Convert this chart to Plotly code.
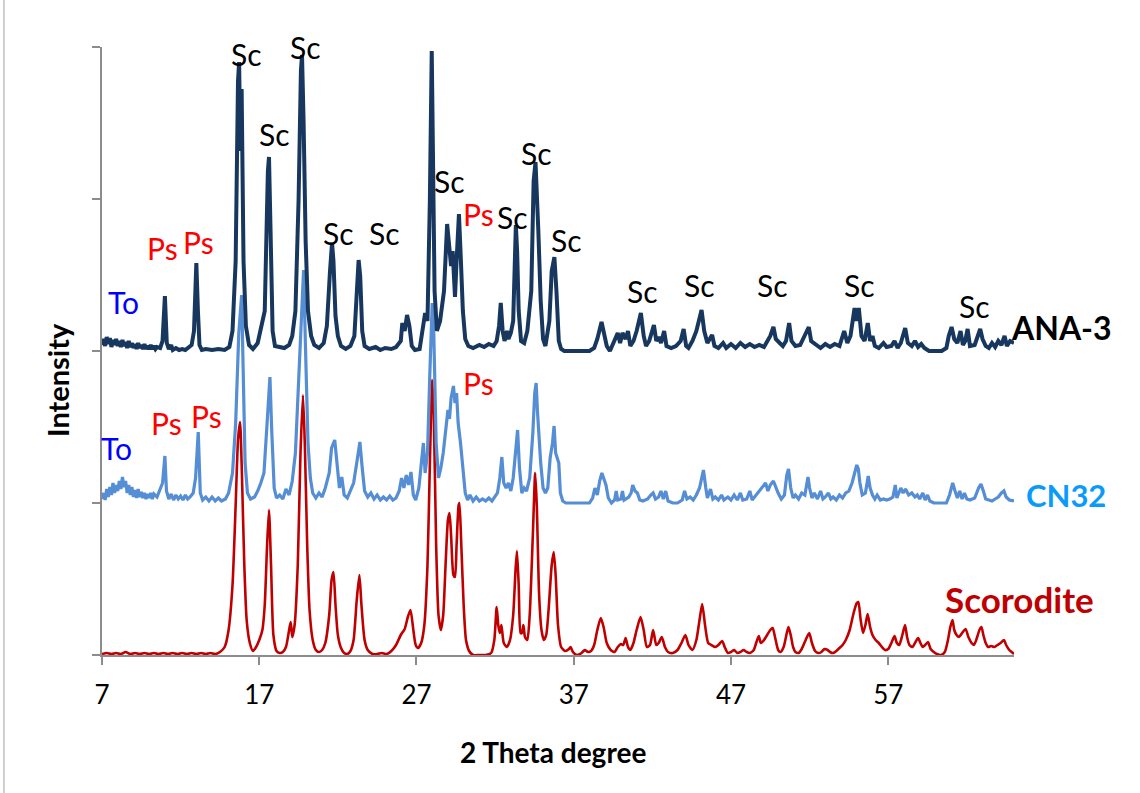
import plotly.graph_objects as go

# ---------------- data (2-theta in degrees, intensity in a.u.) ----------------
ana3_points = [
    (7.0, 6), (7.1, 12), (7.2, 5), (7.3, 14), (7.4, 7), (7.5, 13), (7.6, 4), (7.7, 11), (7.8, 6), (7.9, 12),
    (8.0, 5), (8.1, 10), (8.2, 4), (8.3, 11), (8.4, 5), (8.5, 9), (8.6, 3), (8.7, 10), (8.8, 4), (8.9, 8),
    (9.0, 3), (9.1, 7), (9.2, 2), (9.3, 8), (9.4, 3), (9.5, 6), (9.6, 2), (9.7, 7), (9.8, 2), (9.9, 5),
    (10.0, 2), (10.1, 6), (10.2, 2), (10.3, 5), (10.4, 2), (10.5, 4), (10.7, 3), (10.85, 10), (11.0, 55), (11.12, 8),
    (11.25, 2), (11.4, 6), (11.5, 1), (11.7, 3), (11.9, 1), (12.1, 2), (12.3, 1), (12.5, 3), (12.7, 6), (12.85, 20),
    (13.0, 88), (13.1, 40), (13.2, 6), (13.35, 1), (13.6, 2), (14.0, 1), (14.4, 2), (14.8, 1), (15.1, 4), (15.3, 20),
    (15.5, 90), (15.65, 270), (15.72, 289), (15.8, 200), (15.88, 262), (16.0, 90), (16.15, 25), (16.35, 6), (16.6, 2), (16.9, 8),
    (17.1, 24), (17.35, 40), (17.55, 180), (17.62, 194), (17.72, 120), (17.85, 20), (18.0, 5), (18.3, 4), (18.6, 3), (18.9, 6),
    (19.1, 15), (19.3, 40), (19.5, 150), (19.65, 280), (19.72, 296), (19.82, 230), (19.95, 110), (20.1, 40), (20.3, 15), (20.5, 6),
    (20.8, 3), (21.1, 8), (21.3, 25), (21.5, 80), (21.63, 108), (21.72, 90), (21.85, 35), (22.0, 15), (22.2, 5), (22.5, 2),
    (22.8, 5), (23.05, 15), (23.2, 50), (23.32, 91), (23.42, 75), (23.55, 20), (23.7, 5), (24.0, 2), (24.4, 4), (24.7, 1),
    (25.0, 3), (25.4, 2), (25.7, 4), (26.0, 10), (26.1, 28), (26.25, 20), (26.4, 36), (26.55, 25), (26.7, 5), (26.9, 1),
    (27.2, 2), (27.4, 20), (27.55, 38), (27.7, 30), (27.85, 150), (27.97, 300), (28.05, 220), (28.15, 60), (28.3, 20), (28.5, 30),
    (28.75, 60), (28.95, 127), (29.05, 110), (29.2, 85), (29.3, 100), (29.45, 54), (29.55, 90), (29.7, 137), (29.8, 100), (29.95, 40),
    (30.1, 12), (30.3, 5), (30.6, 3), (31.0, 6), (31.3, 4), (31.6, 7), (31.9, 5), (32.1, 10), (32.25, 25), (32.36, 48),
    (32.48, 20), (32.6, 10), (32.75, 20), (32.85, 12), (33.0, 18), (33.15, 30), (33.32, 126), (33.4, 100), (33.5, 40), (33.65, 10),
    (33.85, 8), (34.05, 20), (34.3, 60), (34.45, 170), (34.57, 189), (34.67, 130), (34.75, 120), (34.9, 50), (35.05, 12), (35.2, 5),
    (35.45, 30), (35.6, 80), (35.77, 94), (35.9, 60), (36.05, 10), (36.2, 2), (36.4, 0), (37.0, 0), (37.6, 0), (38.0, 0),
    (38.3, 3), (38.5, 12), (38.77, 29), (38.9, 20), (39.1, 5), (39.3, 0), (39.6, 10), (39.8, 18), (39.95, 8), (40.1, 18),
    (40.3, 12), (40.45, 20), (40.6, 5), (40.8, 10), (41.0, 20), (41.27, 38), (41.45, 15), (41.6, 5), (41.8, 10), (42.1, 26),
    (42.25, 10), (42.4, 14), (42.55, 8), (42.75, 20), (42.9, 5), (43.2, 3), (43.5, 5), (43.8, 10), (43.99, 22), (44.15, 5),
    (44.3, 3), (44.55, 10), (44.8, 20), (45.13, 41), (45.3, 20), (45.5, 8), (45.8, 16), (45.95, 5), (46.2, 3), (46.5, 8),
    (46.7, 3), (47.0, 7), (47.3, 3), (47.6, 8), (47.9, 4), (48.2, 7), (48.5, 4), (48.8, 6), (49.1, 4), (49.3, 10),
    (49.5, 15), (49.7, 24), (49.85, 12), (50.1, 8), (50.3, 5), (50.5, 10), (50.7, 28), (50.85, 10), (51.1, 5), (51.4, 6),
    (51.7, 15), (51.95, 24), (52.1, 10), (52.4, 6), (52.7, 3), (53.0, 7), (53.3, 4), (53.6, 7), (53.9, 5), (54.2, 20),
    (54.4, 8), (54.6, 15), (54.86, 43), (54.98, 30), (55.13, 43), (55.3, 15), (55.5, 10), (55.7, 28), (55.85, 10), (56.0, 15),
    (56.15, 5), (56.4, 3), (56.7, 8), (56.9, 4), (57.2, 5), (57.4, 10), (57.6, 3), (57.8, 8), (58.08, 23), (58.25, 8),
    (58.5, 5), (58.7, 10), (58.9, 4), (59.1, 7), (59.3, 3), (59.6, 0), (60.0, 0), (60.4, 0), (60.7, 3), (60.85, 15),
    (61.03, 24), (61.2, 12), (61.4, 8), (61.6, 20), (61.75, 6), (61.9, 10), (62.05, 22), (62.2, 5), (62.5, 6), (62.7, 15),
    (62.85, 22), (63.0, 12), (63.2, 5), (63.4, 3), (63.6, 8), (63.8, 4), (64.0, 10), (64.2, 6), (64.4, 15), (64.55, 5),
    (64.75, 10), (65.0, 8),
]

cn32_points = [
    (7.0, 4), (7.1, 10), (7.2, 3), (7.3, 14), (7.4, 6), (7.5, 16), (7.6, 8), (7.7, 20), (7.8, 10), (7.9, 18),
    (8.0, 12), (8.1, 22), (8.2, 14), (8.3, 26), (8.4, 16), (8.5, 22), (8.6, 10), (8.7, 18), (8.8, 8), (8.9, 16),
    (9.0, 6), (9.1, 13), (9.2, 5), (9.3, 14), (9.4, 6), (9.5, 11), (9.6, 5), (9.7, 10), (9.8, 4), (9.9, 9),
    (10.0, 5), (10.1, 10), (10.2, 4), (10.3, 9), (10.5, 6), (10.7, 14), (10.85, 20), (11.0, 47), (11.1, 12), (11.25, 4),
    (11.4, 9), (11.55, 3), (11.7, 8), (11.85, 4), (12.0, 7), (12.15, 3), (12.3, 8), (12.45, 4), (12.6, 6), (12.8, 10),
    (12.95, 25), (13.12, 71), (13.25, 10), (13.4, 3), (13.6, 6), (13.8, 2), (14.0, 6), (14.2, 2), (14.4, 5), (14.6, 2),
    (14.85, 4), (15.05, 10), (15.3, 30), (15.5, 80), (15.7, 170), (15.88, 208), (16.0, 120), (16.1, 40), (16.25, 10), (16.45, 4),
    (16.7, 6), (16.9, 12), (17.1, 20), (17.3, 30), (17.5, 80), (17.68, 126), (17.8, 70), (17.95, 15), (18.1, 5), (18.3, 8),
    (18.5, 4), (18.7, 14), (18.9, 8), (19.1, 22), (19.3, 50), (19.5, 120), (19.7, 200), (19.82, 233), (19.95, 150), (20.1, 60),
    (20.25, 25), (20.4, 10), (20.6, 5), (20.8, 10), (21.0, 6), (21.2, 15), (21.45, 30), (21.6, 55), (21.8, 63), (21.95, 35),
    (22.1, 15), (22.25, 26), (22.4, 8), (22.6, 5), (22.8, 12), (23.0, 20), (23.2, 40), (23.4, 61), (23.55, 35), (23.7, 12),
    (23.9, 6), (24.1, 10), (24.3, 4), (24.5, 8), (24.7, 3), (24.9, 6), (25.1, 3), (25.3, 7), (25.5, 3), (25.7, 5),
    (25.9, 12), (26.05, 25), (26.2, 15), (26.35, 28), (26.5, 18), (26.65, 31), (26.8, 8), (26.95, 3), (27.15, 15), (27.3, 40),
    (27.44, 60), (27.55, 30), (27.7, 50), (27.85, 130), (28.0, 200), (28.1, 170), (28.25, 60), (28.4, 25), (28.55, 35), (28.7, 50),
    (28.85, 70), (29.0, 93), (29.1, 84), (29.2, 105), (29.35, 117), (29.45, 100), (29.55, 110), (29.65, 80), (29.8, 60), (29.95, 30),
    (30.1, 10), (30.25, 3), (30.4, 8), (30.6, 2), (30.8, 6), (31.0, 2), (31.2, 4), (31.4, 2), (31.6, 5), (31.8, 2),
    (32.0, 6), (32.15, 10), (32.3, 25), (32.43, 46), (32.55, 20), (32.7, 15), (32.85, 20), (33.0, 12), (33.15, 25), (33.3, 50),
    (33.43, 73), (33.55, 35), (33.7, 10), (33.85, 15), (34.0, 12), (34.2, 25), (34.4, 70), (34.52, 110), (34.61, 120), (34.7, 90),
    (34.8, 60), (34.9, 40), (35.05, 15), (35.2, 10), (35.35, 15), (35.5, 45), (35.65, 60), (35.75, 77), (35.85, 50), (35.95, 45),
    (36.05, 40), (36.15, 10), (36.3, 2), (36.5, 0), (37.0, 0), (37.5, 0), (38.0, 0), (38.2, 5), (38.35, 15), (38.5, 8),
    (38.65, 22), (38.79, 30), (38.9, 25), (39.05, 18), (39.2, 5), (39.4, 0), (39.6, 3), (39.7, 12), (39.8, 3), (40.0, 4),
    (40.1, 12), (40.2, 3), (40.5, 6), (40.65, 10), (40.75, 18), (40.9, 12), (41.05, 10), (41.2, 3), (41.4, 2), (41.7, 4),
    (41.9, 8), (42.05, 10), (42.2, 4), (42.4, 6), (42.55, 12), (42.7, 4), (42.85, 12), (43.0, 2), (43.3, 0), (43.6, 0),
    (43.9, 3), (44.05, 12), (44.2, 4), (44.4, 6), (44.6, 3), (44.8, 8), (45.0, 15), (45.25, 33), (45.4, 15), (45.5, 5),
    (45.7, 14), (45.85, 4), (46.0, 6), (46.2, 3), (46.4, 8), (46.55, 3), (46.8, 6), (47.0, 3), (47.2, 8), (47.4, 3),
    (47.6, 10), (47.75, 3), (48.0, 4), (48.2, 12), (48.35, 3), (48.6, 8), (48.8, 12), (49.0, 15), (49.2, 20), (49.35, 12),
    (49.5, 18), (49.7, 22), (49.85, 15), (50.0, 10), (50.2, 4), (50.4, 8), (50.55, 28), (50.66, 34), (50.8, 15), (50.95, 5),
    (51.1, 8), (51.3, 4), (51.5, 10), (51.7, 8), (51.9, 26), (52.0, 15), (52.15, 5), (52.3, 10), (52.5, 4), (52.7, 12),
    (52.85, 4), (53.0, 6), (53.2, 10), (53.35, 4), (53.5, 6), (53.7, 3), (53.9, 8), (54.1, 5), (54.3, 10), (54.5, 12),
    (54.7, 20), (54.85, 30), (55.0, 38), (55.1, 34), (55.2, 20), (55.35, 8), (55.55, 10), (55.73, 27), (55.85, 15), (56.0, 8),
    (56.15, 4), (56.3, 8), (56.5, 3), (56.7, 4), (56.9, 3), (57.1, 4), (57.3, 6), (57.45, 18), (57.55, 5), (57.8, 15),
    (57.95, 10), (58.1, 14), (58.3, 8), (58.5, 10), (58.7, 6), (58.85, 8), (59.0, 4), (59.2, 10), (59.35, 3), (59.5, 8),
    (59.65, 2), (59.9, 0), (60.3, 0), (60.7, 0), (60.9, 8), (61.1, 20), (61.25, 12), (61.4, 5), (61.55, 12), (61.7, 4),
    (61.85, 10), (62.0, 4), (62.2, 3), (62.5, 5), (62.75, 15), (62.9, 19), (63.05, 12), (63.2, 4), (63.4, 3), (63.6, 2),
    (63.8, 4), (64.0, 6), (64.2, 10), (64.36, 12), (64.5, 6), (64.7, 3), (65.0, 2),
]

scorodite_points = [
    (7.0, 1), (7.3, 2), (7.6, 1), (7.9, 2), (8.2, 1), (8.5, 3), (8.8, 1), (9.1, 2), (9.4, 1), (9.7, 2),
    (10.0, 1), (10.3, 2), (10.6, 1), (10.9, 2), (11.2, 1), (11.5, 2), (11.8, 1), (12.1, 2), (12.4, 1), (12.7, 2),
    (13.0, 1), (13.3, 2), (13.6, 1), (13.9, 2), (14.2, 1), (14.5, 3), (14.8, 8), (15.05, 25), (15.3, 70), (15.5, 150),
    (15.65, 215), (15.78, 233), (15.9, 180), (16.05, 90), (16.2, 35), (16.4, 12), (16.6, 4), (16.8, 8), (17.0, 15), (17.2, 25),
    (17.35, 50), (17.5, 110), (17.62, 145), (17.75, 90), (17.9, 20), (18.1, 4), (18.3, 2), (18.5, 3), (18.7, 8), (18.9, 25),
    (19.0, 33), (19.1, 18), (19.25, 30), (19.45, 90), (19.62, 200), (19.78, 260), (19.9, 210), (20.05, 110), (20.2, 45), (20.4, 15),
    (20.6, 5), (20.8, 3), (21.0, 5), (21.2, 12), (21.45, 40), (21.6, 75), (21.72, 83), (21.85, 50), (22.0, 20), (22.2, 7),
    (22.4, 2), (22.6, 1), (22.8, 4), (23.0, 15), (23.2, 55), (23.37, 80), (23.5, 50), (23.7, 15), (23.9, 5), (24.2, 1),
    (24.5, 1), (24.8, 2), (25.1, 1), (25.4, 4), (25.7, 10), (26.0, 20), (26.25, 26), (26.45, 38), (26.62, 45), (26.8, 25),
    (26.95, 10), (27.1, 7), (27.3, 12), (27.5, 30), (27.7, 90), (27.85, 190), (28.0, 275), (28.1, 240), (28.25, 110), (28.4, 40),
    (28.55, 25), (28.7, 40), (28.85, 90), (29.0, 135), (29.1, 142), (29.2, 120), (29.35, 80), (29.45, 78), (29.55, 110), (29.68, 150),
    (29.73, 152), (29.85, 110), (30.0, 50), (30.15, 15), (30.35, 4), (30.6, 0), (31.0, 0), (31.4, 0), (31.75, 2), (31.95, 15),
    (32.1, 48), (32.2, 30), (32.3, 22), (32.4, 30), (32.55, 12), (32.75, 8), (32.95, 15), (33.15, 40), (33.3, 85), (33.39, 104),
    (33.5, 70), (33.62, 22), (33.7, 22), (33.8, 30), (33.9, 18), (34.05, 15), (34.2, 40), (34.4, 120), (34.55, 182), (34.65, 150),
    (34.8, 60), (34.95, 25), (35.1, 15), (35.25, 20), (35.4, 45), (35.6, 90), (35.73, 103), (35.85, 80), (36.0, 30), (36.2, 8),
    (36.45, 4), (36.7, 6), (36.8, 8), (36.95, 3), (37.2, 0), (37.5, 2), (37.7, 5), (37.9, 3), (38.1, 4), (38.3, 10),
    (38.5, 25), (38.72, 37), (38.9, 28), (39.1, 12), (39.35, 5), (39.6, 3), (39.8, 8), (40.0, 11), (40.15, 10), (40.3, 17),
    (40.45, 8), (40.6, 5), (40.8, 12), (41.0, 25), (41.25, 38), (41.45, 25), (41.65, 8), (41.85, 10), (42.05, 25), (42.25, 10),
    (42.4, 12), (42.6, 18), (42.8, 8), (43.0, 3), (43.3, 2), (43.6, 5), (43.85, 12), (44.1, 20), (44.3, 10), (44.55, 5),
    (44.8, 15), (45.0, 35), (45.17, 51), (45.35, 30), (45.55, 12), (45.75, 10), (46.0, 8), (46.2, 10), (46.44, 14), (46.6, 8),
    (46.8, 2), (47.0, 3), (47.2, 5), (47.4, 2), (47.6, 3), (47.8, 5), (48.0, 3), (48.2, 2), (48.45, 5), (48.6, 12),
    (48.77, 19), (48.9, 12), (49.05, 14), (49.3, 20), (49.5, 25), (49.65, 27), (49.8, 18), (50.0, 5), (50.15, 3), (50.35, 8),
    (50.55, 22), (50.66, 28), (50.8, 20), (50.95, 8), (51.1, 3), (51.3, 2), (51.5, 6), (51.75, 15), (51.98, 22), (52.15, 12),
    (52.35, 4), (52.55, 2), (52.75, 3), (52.95, 6), (53.15, 5), (53.3, 3), (53.5, 2), (53.7, 4), (53.9, 7), (54.1, 10),
    (54.3, 15), (54.55, 25), (54.8, 42), (55.0, 52), (55.1, 53), (55.25, 35), (55.4, 22), (55.55, 30), (55.69, 41), (55.85, 28),
    (56.0, 20), (56.2, 15), (56.4, 12), (56.6, 8), (56.8, 5), (57.0, 6), (57.2, 12), (57.4, 19), (57.55, 12), (57.7, 10),
    (57.9, 20), (58.07, 30), (58.2, 18), (58.35, 10), (58.55, 8), (58.7, 12), (58.9, 17), (59.05, 12), (59.2, 8), (59.35, 10),
    (59.53, 13), (59.7, 6), (59.9, 3), (60.1, 1), (60.35, 0), (60.6, 3), (60.8, 15), (60.95, 28), (61.09, 35), (61.2, 25),
    (61.35, 20), (61.5, 18), (61.7, 22), (61.92, 26), (62.1, 18), (62.3, 12), (62.45, 10), (62.6, 15), (62.8, 25), (62.93, 28),
    (63.05, 20), (63.2, 12), (63.35, 8), (63.55, 9), (63.75, 8), (63.95, 10), (64.15, 12), (64.36, 15), (64.5, 10), (64.7, 5),
    (64.85, 3), (65.0, 1),
]

ana3_2theta = [p[0] for p in ana3_points]
ana3_intensity = [p[1] for p in ana3_points]
cn32_2theta = [p[0] for p in cn32_points]
cn32_intensity = [p[1] for p in cn32_points]
scorodite_2theta = [p[0] for p in scorodite_points]
scorodite_intensity = [p[1] for p in scorodite_points]

series_names = ["Scorodite", "CN32", "ANA-3"]
series_offsets = [0, 152, 304]

# phase labels: text, 2-theta position, height
label_text = ["Sc", "Sc", "Sc", "Sc", "Sc", "Sc", "Sc", "Sc", "Sc", "Sc", "Sc", "Sc", "Sc", "Sc", "Sc",
              "Ps", "Ps", "Ps", "To", "To", "Ps", "Ps", "Ps"]
label_x = [16.16, 19.91, 17.94, 28.18, 29.07, 22.01, 24.94, 33.08, 34.61, 36.52, 41.35, 44.98, 49.62, 55.16, 62.47,
           10.82, 13.11, 30.92, 8.34, 7.95, 11.07, 13.62, 30.92]
label_y = [601, 608, 521, 609, 474, 422, 422, 438, 502, 415, 364, 370, 370, 370, 349,
           407, 413, 441, 353, 207, 232, 239, 272]

xtick_vals = [7, 17, 27, 37, 47, 57]

# ---------------- figure ----------------
line_colors = {"ANA-3": "#17375E", "CN32": "#558ED5", "Scorodite": "#C00000"}
line_widths = {"ANA-3": 4.0, "CN32": 3.2, "Scorodite": 2.6}
label_colors = {"Sc": "#000000", "Ps": "#FF0000", "To": "#0000FF"}

fig = go.Figure()
data_map = {
    "Scorodite": (scorodite_2theta, scorodite_intensity),
    "CN32": (cn32_2theta, cn32_intensity),
    "ANA-3": (ana3_2theta, ana3_intensity),
}
for name, off in zip(series_names, series_offsets):
    xs, ys = data_map[name]
    fig.add_trace(go.Scatter(
        x=xs, y=[v + off for v in ys], mode="lines", name=name,
        line=dict(color=line_colors[name], width=line_widths[name],
                  shape="spline" if name == "Scorodite" else "linear", smoothing=0.6),
        showlegend=False, hoverinfo="skip",
    ))

annotations = []
for t, x, y in zip(label_text, label_x, label_y):
    annotations.append(dict(x=x, y=y, xref="x", yref="y", text=t, showarrow=False,
                            xanchor="center", yanchor="middle",
                            font=dict(family="Lato", size=30, color=label_colors[t])))

# positions outside the plot area, expressed in paper coordinates
PX0, PW, PY0, PH = 102, 911.6, 655, 608
def px(xp):
    return (xp - PX0) / PW
def py(yp):
    return (PY0 - yp) / PH

annotations += [
    dict(x=px(1061), y=py(327), xref="paper", yref="paper", text="<b>ANA-3</b>", showarrow=False,
         xanchor="center", yanchor="middle", font=dict(family="Lato", size=32, color="#000000")),
    dict(x=px(1066), y=py(495), xref="paper", yref="paper", text="<b>CN32</b>", showarrow=False,
         xanchor="center", yanchor="middle", font=dict(family="Lato", size=31, color="#0A9BFA")),
    dict(x=px(1019), y=py(599), xref="paper", yref="paper", text="<b>Scorodite</b>", showarrow=False,
         xanchor="center", yanchor="middle", font=dict(family="Lato", size=35, color="#C00000")),
    dict(x=px(553), y=py(752), xref="paper", yref="paper", text="<b>2 Theta degree</b>", showarrow=False,
         xanchor="center", yanchor="middle", font=dict(family="Lato", size=28, color="#000000")),
    dict(x=px(57), y=py(380), xref="paper", yref="paper", text="<b>Intensity</b>", showarrow=False,
         xanchor="center", yanchor="middle", textangle=-90,
         font=dict(family="Lato", size=29, color="#000000")),
]

fig.update_layout(
    width=1140, height=793,
    margin=dict(l=102, r=1140 - 1013.6, t=47, b=793 - 655),
    paper_bgcolor="white", plot_bgcolor="white",
    annotations=annotations,
    shapes=[dict(type="line", xref="paper", yref="paper", x0=px(4), x1=px(4), y0=py(0), y1=py(793),
                 line=dict(color="#BFBFBF", width=1.5))],
)
fig.update_xaxes(range=[7, 65], tickvals=xtick_vals, ticktext=[str(v) for v in xtick_vals],
                 showline=True, linecolor="#8C8C8C", linewidth=2, ticks="outside", ticklen=8,
                 tickcolor="#8C8C8C", tickwidth=2, showgrid=False, zeroline=False,
                 ticklabelstandoff=8,
                 tickfont=dict(family="Lato", size=26, color="#000000"))
fig.update_yaxes(range=[0, 608], tickvals=[0, 152, 304, 456, 608], showticklabels=False,
                 showline=True, linecolor="#8C8C8C", linewidth=2, ticks="outside", ticklen=8,
                 tickcolor="#8C8C8C", tickwidth=2, showgrid=False, zeroline=False)

fig.write_html("out.html")
